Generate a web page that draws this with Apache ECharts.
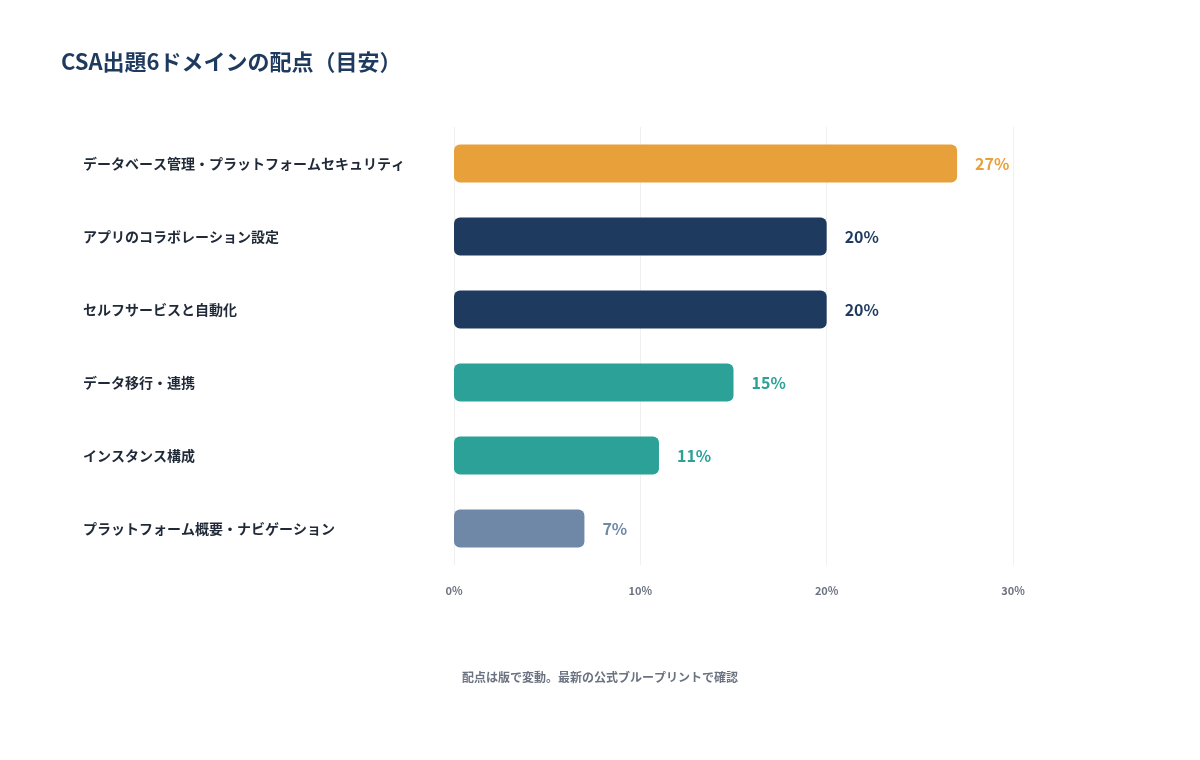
<!DOCTYPE html>
<html><head><meta charset="utf-8">
<script src="https://cdn.jsdelivr.net/npm/echarts@6/dist/echarts.min.js"></script>
<style>html,body{margin:0;background:#fff}#main{width:1200px;height:760px}</style>
</head><body><div id="main"></div>
<script>
// ドメイン名（上から順）
var domains = ['データベース管理・プラットフォームセキュリティ','アプリのコラボレーション設定','セルフサービスと自動化','データ移行・連携','インスタンス構成','プラットフォーム概要・ナビゲーション'];
var weights = [27, 20, 20, 15, 11, 7];
var barColors = ['#E8A03A','#1F3A5F','#1F3A5F','#2BA198','#2BA198','#7088A8'];
var xTicks = [0, 10, 20, 30];

var font = '"Noto Sans CJK JP", "Noto Sans", sans-serif';
var chart = echarts.init(document.getElementById('main'));
chart.setOption({
  textStyle: {fontFamily: font},
  title: {text: 'CSA出題6ドメインの配点（目安）', left: 56, top: 46,
    textStyle: {fontSize: 22, fontWeight: 'bold', color: '#1F3A5F', fontFamily: font}},
  graphic: [{type: 'text', left: 'center', top: 671,
    style: {text: '配点は版で変動。最新の公式ブループリントで確認', fill: '#6B7280', font: 'bold 12px ' + font}}],
  grid: {left: 454, right: 187, top: 127, height: 438},
  xAxis: {type: 'value', min: 0, max: 30, interval: 10,
    axisLabel: {formatter: '{value}%', color: '#6B7280', fontSize: 11, fontWeight: 'bold', margin: 20},
    splitLine: {lineStyle: {color: '#F0F0F0'}}, axisLine: {show: false}, axisTick: {show: false}},
  yAxis: {type: 'category', inverse: true, data: domains,
    axisLine: {show: false}, axisTick: {show: false},
    axisLabel: {align: 'left', margin: 371, width: 335, overflow: 'break',
      color: '#1F2937', fontSize: 14, fontWeight: 'bold', lineHeight: 22}},
  series: [{type: 'bar', barWidth: 38,
    data: weights.map(function (v, i) {
      return {value: v, itemStyle: {color: barColors[i], borderRadius: 6},
        label: {color: barColors[i]}};
    }),
    label: {show: true, position: 'right', distance: 18, formatter: '{c}%', fontSize: 16, fontWeight: 'bold'}
  }]
});
</script></body></html>
